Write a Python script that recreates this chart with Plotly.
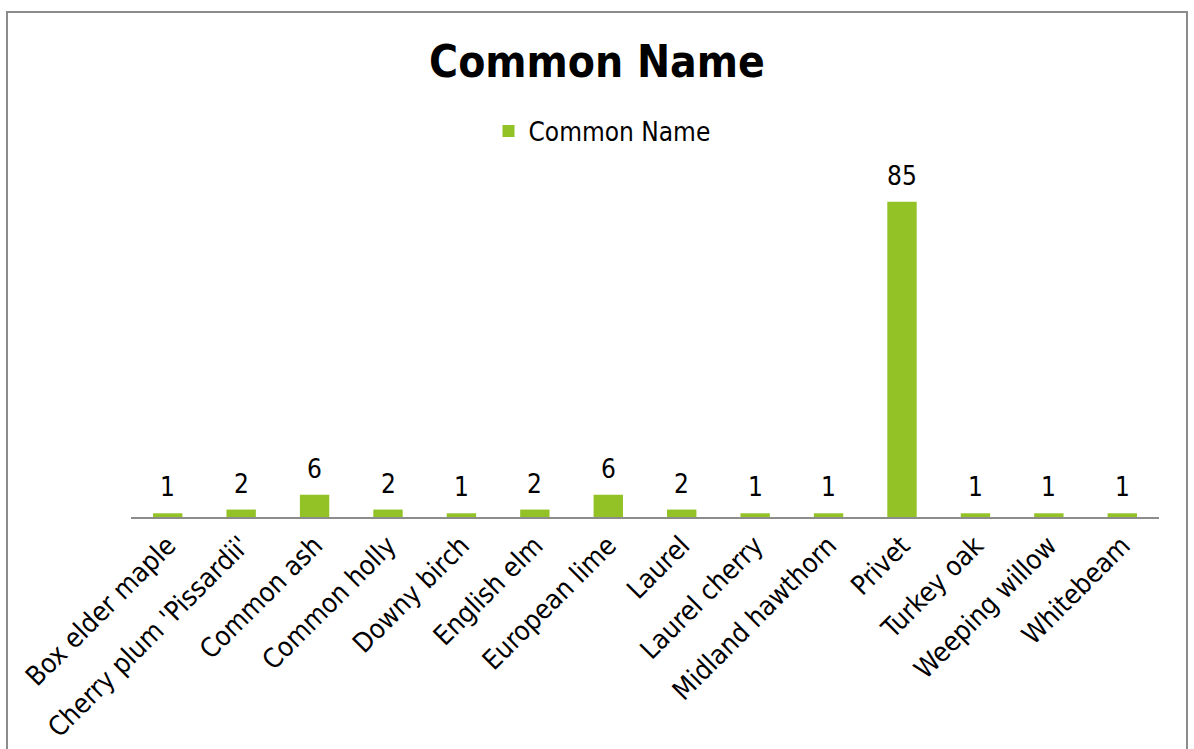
import plotly.graph_objects as go

categories = ["Box elder maple", "Cherry plum 'Pissardii'", "Common ash", "Common holly",
              "Downy birch", "English elm", "European lime", "Laurel", "Laurel cherry",
              "Midland hawthorn", "Privet", "Turkey oak", "Weeping willow", "Whitebeam"]
counts = [1, 2, 6, 2, 1, 2, 6, 2, 1, 1, 85, 1, 1, 1]
series_name = "Common Name"
title_text = "Common Name"

FONT = "DejaVu Sans Condensed, DejaVu Sans, sans-serif"
W, H = 1194, 749
L, R, T, B = 131, W - 1159, 146, H - 517

def px_x(p):
    return (p - L) / (W - L - R)

def px_y(q):
    return (H - B - q) / (H - T - B)

fig = go.Figure(go.Bar(
    x=categories, y=counts, name=series_name,
    marker=dict(color="#92C225", line=dict(width=0)),
    showlegend=True,
))

for c, v in zip(categories, counts):
    fig.add_annotation(x=c, y=v, text=str(v), showarrow=False, yanchor="middle",
                       yshift=26, font=dict(size=26, color="#000000", family=FONT))

fig.update_layout(
    width=W, height=H,
    margin=dict(l=L, r=R, t=T, b=B, autoexpand=False),
    paper_bgcolor="white", plot_bgcolor="white",
    bargap=0.6,
    title=dict(text="<b>" + title_text + "</b>", x=0.5, xanchor="center",
               y=1 - 62 / H, yanchor="middle",
               font=dict(size=44, color="#000000", family=FONT)),
    legend=dict(orientation="h", x=px_x(602), xanchor="center", y=px_y(131), yanchor="middle",
                font=dict(size=26, color="#000000", family=FONT),
                itemwidth=30, bgcolor="rgba(0,0,0,0)"),
    xaxis=dict(showline=True, linecolor="#8C8C8C", linewidth=2, tickangle=-45,
               ticks="", showgrid=False, zeroline=False, automargin=False,
               tickfont=dict(size=27, color="#000000", family=FONT)),
    yaxis=dict(range=[0, 100], visible=False, showgrid=False, zeroline=False, automargin=False),
    shapes=[dict(type="rect", xref="paper", yref="paper",
                 x0=px_x(7), x1=px_x(1187), y0=px_y(12), y1=px_y(770),
                 line=dict(color="#8C8C8C", width=2), fillcolor="rgba(0,0,0,0)", layer="below")],
)

fig.write_html("out.html")
